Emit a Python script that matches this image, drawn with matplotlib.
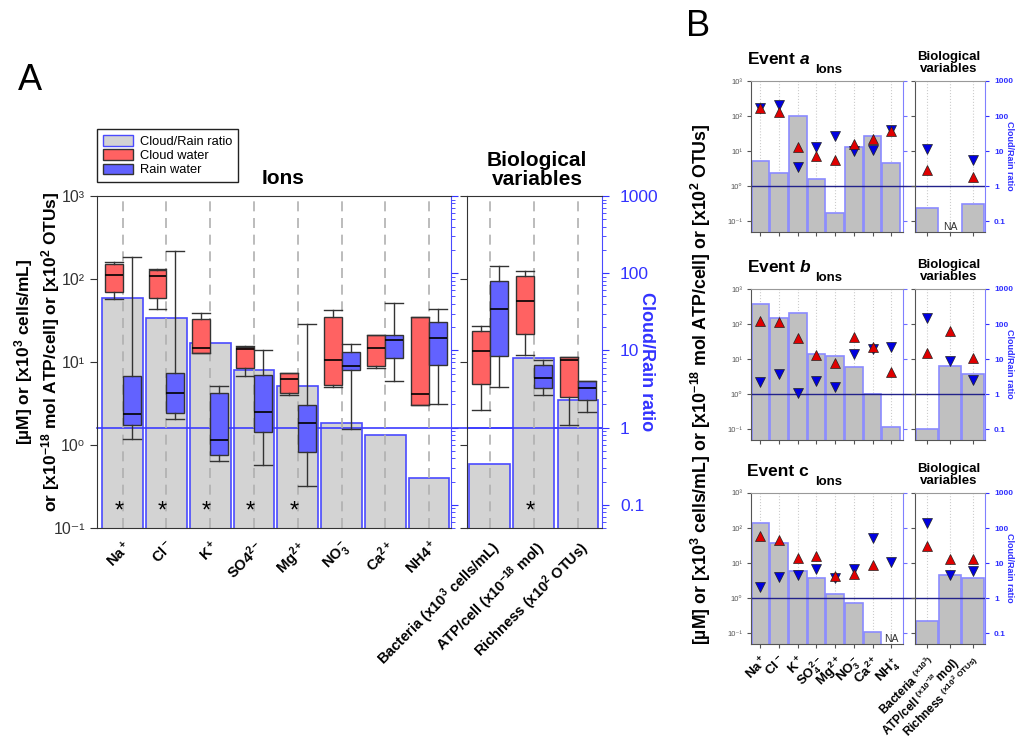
import numpy as np
import matplotlib
matplotlib.use('Agg')
from matplotlib import pyplot as plt
from matplotlib.patches import Patch
from matplotlib.ticker import FixedLocator, FuncFormatter, LogLocator, NullLocator, NullFormatter

plt.rcParams['font.family'] = ['Liberation Sans', 'DejaVu Sans']
plt.rcParams['mathtext.fontset'] = 'custom'
plt.rcParams['mathtext.rm'] = 'Liberation Sans:bold'
plt.rcParams['mathtext.bf'] = 'Liberation Sans:bold'
plt.rcParams['mathtext.sf'] = 'Liberation Sans:bold'
plt.rcParams['mathtext.it'] = 'Liberation Sans:italic:bold'
plt.rcParams['mathtext.default'] = 'rm'

#---------------------------data----------------------------------------------------
# panel A, categories
ion_labels_a = ['Na$^+$', 'Cl$^-$', 'K$^+$', 'SO4$^{2-}$', 'Mg$^{2+}$', 'NO$_3^-$', 'Ca$^{2+}$', 'NH4$^+$']
bio_labels_a = ['Bacteria (x10$^3$ cells/mL)', 'ATP/cell (x10$^{-18}$ mol)', 'Richness (x10$^2$ OTUs)']

# box stats: whisker low, q1, median, q3, whisker high
ion_cloud_stats = [[58, 69, 113, 151, 159],
                   [43, 59, 110, 127, 131],
                   [12.7, 12.9, 14.6, 32.6, 38.8],
                   [6.85, 8.5, 14.5, 15.2, 15.4],
                   [4.0, 4.2, 6.3, 7.4, 7.45],
                   [5.0, 5.3, 10.7, 35, 41.8],
                   [8.5, 8.9, 14.7, 21, 21.2],
                   [3.0, 3.0, 4.1, 35, 35]]
ion_rain_stats = [[1.17, 1.72, 2.35, 6.8, 185],
                  [2.07, 2.4, 4.2, 7.3, 216],
                  [0.65, 0.76, 1.16, 4.2, 5.2],
                  [0.58, 1.43, 2.48, 7.0, 13.8],
                  [0.32, 0.82, 1.82, 3.07, 29],
                  [1.55, 7.9, 9.0, 13.2, 16.3],
                  [5.9, 11.1, 18.6, 21, 52],
                  [3.15, 9.3, 19.3, 30.3, 43]]
ion_ratio = [47, 26.2, 12.4, 5.57, 3.46, 1.15, 0.80, 0.213]
ion_star = [True, True, True, True, True, False, False, False]

bio_cloud_stats = [[2.65, 5.4, 13.6, 23.8, 27.5],
                   [12.2, 21.5, 54, 108, 125],
                   [1.72, 3.8, 10.7, 11.6, 11.6]]
bio_rain_stats = [[5.0, 11.7, 43, 95, 145],
                  [4.0, 4.8, 6.5, 9.1, 10.5],
                  [2.47, 3.47, 4.8, 5.9, 5.9]]
bio_ratio = [0.33, 8.05, 2.25]
bio_star = [False, True, False]

# panel B, categories
ion_labels_b = ['Na$^+$', 'Cl$^-$', 'K$^+$', 'SO$_4^{2-}$', 'Mg$^{2+}$', 'NO$_3^-$', 'Ca$^{2+}$', 'NH$_4^+$']
bio_labels_b = ['Bacteria $^{(x10^3)}$', 'ATP/cell $^{(x10^{-18}}$mol)', 'Richness $^{(x10^2\\ OTUs)}$']

nan = np.nan
# event a
a_ratio_ions = [5.2, 2.45, 100, 1.6, 0.16, 12.8, 27, 4.6]
a_cloud_ions = [168, 135, 13.4, 7.4, 5.5, 16.3, 22, 37]
a_rain_ions = [175, 208, 3.55, 13.1, 27.5, 10.3, 11, 40.6]
a_ratio_bio = [0.23, nan, 0.31]
a_cloud_bio = [2.9, nan, 1.85]
a_rain_bio = [11.5, nan, 5.5]
# event b
b_ratio_ions = [384, 154, 204, 14.4, 12.3, 5.8, 1.03, 0.11]
b_cloud_ions = [124, 114, 40, 13.5, 8.0, 43.5, 22, 4.3]
b_rain_ions = [2.26, 3.8, 1.1, 2.4, 1.58, 14, 19, 22]
b_ratio_bio = [0.096, 6.3, 3.8]
b_cloud_bio = [15.3, 63, 10.8]
b_rain_bio = [147, 9.1, 2.5]
# event c
c_ratio_ions = [139, 37, 6.0, 3.9, 1.36, 0.72, 0.1, nan]
c_cloud_ions = [60, 46, 14.5, 16, 4.2, 5.0, 8.8, nan]
c_rain_ions = [2.15, 4.0, 4.6, 6.9, 3.7, 7.0, 51, 10.9]
c_ratio_bio = [0.21, 4.7, 3.7]
c_cloud_bio = [30, 12.9, 12.9]
c_rain_bio = [138, 4.7, 5.9]

#---------------------------helpers-------------------------------------------------
W, H = 1020, 740
RED = '#ff6262'
BLUE = '#6262ff'
SUP = str.maketrans('0123456789-', '⁰¹²³⁴⁵⁶⁷⁸⁹⁻')

# pixel box -> figure rect
def px_rect(left, top, right, bottom):
  return [left / W, 1 - bottom / H, (right - left) / W, (bottom - top) / H]

def pow_label(v, pos):
  e = int(round(np.log10(v)))
  return '10' + str(e).translate(SUP)

def ratio_label(v, pos):
  return '%g' % v

def to_stats(rows):
  return [dict(whislo=r[0], q1=r[1], med=r[2], q3=r[3], whishi=r[4], fliers=[]) for r in rows]

# one box plot axes of panel A (left: concentrations, right: ratio)
def draw_panel_a(rect, labels, cloud, rain, ratio, stars, xlim, is_bio):
  ax = fig.add_axes(rect)
  axr = ax.twinx()
  ax.set_zorder(axr.get_zorder() + 1)
  ax.patch.set_visible(False)
  x = np.arange(len(labels))

  ax.set_yscale('log')
  ax.set_ylim(0.1, 1000)
  axr.set_yscale('log')
  axr.set_ylim(0.05, 1000)
  ax.set_xlim(xlim)

  axr.bar(x, ratio, width=0.93, bottom=0.01, color='#d3d3d3', edgecolor='#4a4aff', linewidth=1.2)
  for xi in x:
    ax.axvline(xi, color='#b0b0b0', ls=(0, (6, 4)), lw=1.2, zorder=1)

  for stats, off, col in [(cloud, -0.205, RED), (rain, 0.205, BLUE)]:
    ax.bxp(to_stats(stats), positions=x + off, widths=0.41, capwidths=0.41, patch_artist=True,
           showfliers=False, manage_ticks=False, zorder=3,
           boxprops=dict(facecolor=col, edgecolor='#333333', linewidth=1),
           medianprops=dict(color='black', linewidth=1.2),
           whiskerprops=dict(color='#333333', linewidth=1),
           capprops=dict(color='#333333', linewidth=1))

  for xi, s in zip(x, stars):
    if s:
      ax.text(xi - 0.09, 0.16, '*', ha='center', va='center', fontsize=17, zorder=4)

  ax.yaxis.set_major_locator(FixedLocator([0.1, 1, 10, 100, 1000]))
  ax.yaxis.set_minor_locator(NullLocator())
  axr.yaxis.set_major_locator(FixedLocator([0.1, 1, 10, 100, 1000]))
  axr.yaxis.set_minor_locator(LogLocator(base=10, subs=np.arange(2, 10), numticks=20))
  axr.yaxis.set_minor_formatter(NullFormatter())
  if is_bio:
    ax.yaxis.set_major_formatter(NullFormatter())
    axr.yaxis.set_major_formatter(FuncFormatter(ratio_label))
    axr.tick_params(axis='y', which='major', colors='#3333ff', labelsize=12.5, length=5, pad=8)
  else:
    ax.yaxis.set_major_formatter(FuncFormatter(pow_label))
    axr.yaxis.set_major_formatter(NullFormatter())
    axr.tick_params(axis='y', which='major', colors='#3333ff', length=5)
  ax.tick_params(axis='y', which='major', colors='#333333', labelsize=11.5, length=5)
  axr.tick_params(axis='y', which='minor', colors='#3333ff', length=3)

  ax.set_xticks(x)
  ax.set_xticklabels(labels, rotation=45, ha='right', rotation_mode='anchor', fontsize=10.5, fontweight='bold')
  ax.tick_params(axis='x', length=0, pad=7)

  ax.spines['right'].set_visible(False)
  for side in ['left', 'top', 'bottom']:
    axr.spines[side].set_visible(False)
    ax.spines[side].set_color('#333333')
  axr.spines['right'].set_color('#4a4aff')
  return ax, axr

# one axes of panel B (markers + ratio bars, same scale)
def draw_panel_b(rect, ratio, cloud, rain, xlim, is_bio, labels):
  ax = fig.add_axes(rect)
  axr = ax.twinx()
  ax.set_zorder(axr.get_zorder() + 1)
  ax.patch.set_visible(False)
  x = np.arange(len(ratio))
  for a in [ax, axr]:
    a.set_yscale('log')
    a.set_ylim(0.05, 1000)
    a.yaxis.set_major_locator(FixedLocator([0.1, 1, 10, 100, 1000]))
    a.yaxis.set_minor_locator(NullLocator())
  ax.set_xlim(xlim)

  for xi in x:
    ax.axvline(xi, color='#cccccc', ls=':', lw=0.8, zorder=0)
  ax.bar(x, ratio, width=0.94, bottom=0.01, color='#c0c0c0', edgecolor='#8a8aff', linewidth=1.2, zorder=1)
  ax.axhline(1, color='#22228a', lw=1, zorder=2)
  ax.plot(x, rain, ls='none', marker='v', ms=7.5, mfc='#0000e0', mec='#222222', mew=0.5, zorder=4)
  ax.plot(x, cloud, ls='none', marker='^', ms=7.5, mfc='#e00000', mec='#222222', mew=0.5, zorder=4)
  for xi, r in zip(x, ratio):
    if np.isnan(r):
      ax.text(xi, 0.068, 'NA', ha='center', va='center', fontsize=7.5, color='#333333')

  if is_bio:
    ax.yaxis.set_major_formatter(NullFormatter())
    axr.yaxis.set_major_formatter(FuncFormatter(ratio_label))
    for t in axr.get_yticklabels():
      t.set_fontweight('bold')
    axr.tick_params(axis='y', colors='#3030ff', labelsize=6, length=3)
  else:
    ax.yaxis.set_major_formatter(FuncFormatter(pow_label))
    axr.yaxis.set_major_formatter(NullFormatter())
    axr.tick_params(axis='y', colors='#7070ff', length=3)
  ax.tick_params(axis='y', colors='#555555', labelsize=5.5, length=3)

  ax.set_xticks(x)
  if labels is not None:
    ax.set_xticklabels(labels, rotation=45, ha='right', rotation_mode='anchor',
                       fontsize=8.5 if is_bio else 9.5, fontweight='bold')
  else:
    ax.set_xticklabels([])
  ax.tick_params(axis='x', length=3, color='#555555', pad=4)

  ax.spines['right'].set_visible(False)
  for side in ['left', 'top', 'bottom']:
    axr.spines[side].set_visible(False)
  ax.spines['left'].set_color('#555555')
  ax.spines['bottom'].set_color('#555555')
  ax.spines['top'].set_color('#999999')
  axr.spines['right'].set_color('#8080ff')
  return ax

def draw_event(top, ions, bios, title, with_labels):
  bottom = top + 151
  ax_i = draw_panel_b(px_rect(751, top, 903, bottom), *ions, (-0.5, 7.63), False,
                      ion_labels_b if with_labels else None)
  draw_panel_b(px_rect(915, top, 985, bottom), *bios, (-0.52, 2.52), True,
               bio_labels_b if with_labels else None)
  # ratio = 1 line over the gap
  ax_i.axhline(1, xmin=1, xmax=(915 - 751) / 152, color='#22228a', lw=1, clip_on=False)
  fig.text(747 / W, 1 - (top - 22) / H, title, fontsize=12.5, fontweight='bold', va='center', ha='left')
  fig.text(829 / W, 1 - (top - 11) / H, 'Ions', fontsize=9.5, fontweight='bold', va='center', ha='center')
  fig.text(949 / W, 1 - (top - 18) / H, 'Biological\nvariables', fontsize=9.5, fontweight='bold',
           va='center', ha='center', linespacing=1.05)
  fig.text(1010 / W, 1 - (top + 75) / H, 'Cloud/Rain ratio', fontsize=6.5, fontweight='bold',
           color='#3030ff', rotation=270, va='center', ha='center')

#---------------------------main----------------------------------------------------
fig = plt.figure(figsize=(10.2, 7.4), dpi=100)

# panel A
ax_ion, axr_ion = draw_panel_a(px_rect(97, 196, 451, 528), ion_labels_a, ion_cloud_stats, ion_rain_stats,
                               ion_ratio, ion_star, (-0.587, 7.5), False)
ax_bio, axr_bio = draw_panel_a(px_rect(467, 196, 602, 528), bio_labels_a, bio_cloud_stats, bio_rain_stats,
                               bio_ratio, bio_star, (-0.52, 2.545), True)
axr_ion.axhline(1, xmin=0, xmax=(602 - 97) / 354, color='#3c3cff', lw=1.2, clip_on=False)
axr_bio.axhline(1, color='#3c3cff', lw=1.2)

fig.text(30 / W, 1 - 81 / H, 'A', fontsize=26, ha='center', va='center')
fig.text(283 / W, 1 - 178 / H, 'Ions', fontsize=15, fontweight='bold', ha='center', va='center')
fig.text(537 / W, 1 - 170 / H, 'Biological\nvariables', fontsize=15, fontweight='bold', ha='center',
         va='center', linespacing=1.0)
fig.text(647 / W, 1 - 362 / H, 'Cloud/Rain ratio', fontsize=13, fontweight='bold', color='#3333ff',
         rotation=270, ha='center', va='center')
fig.text(37 / W, 1 - 352 / H, '[µM] or [x10$^3$ cells/mL]\nor [x10$^{-18}$ mol ATP/cell] or [x10$^2$ OTUs]',
         fontsize=12.5, fontweight='bold', rotation=90, ha='center', va='center', multialignment='center')

handles = [Patch(facecolor='#d3d3d3', edgecolor='#4a4aff', label='Cloud/Rain ratio'),
           Patch(facecolor=RED, edgecolor='#333333', label='Cloud water'),
           Patch(facecolor=BLUE, edgecolor='#333333', label='Rain water')]
fig.legend(handles=handles, loc='upper left', bbox_to_anchor=(97 / W, 1 - 129 / H), fancybox=False,
           edgecolor='#222222', framealpha=1, fontsize=9.3, handlelength=2.3, handleheight=0.9,
           handletextpad=0.6, labelspacing=0.12, borderpad=0.45, borderaxespad=0)

# panel B
fig.text(698 / W, 1 - 27 / H, 'B', fontsize=26, ha='center', va='center')
draw_event(81, (a_ratio_ions, a_cloud_ions, a_rain_ions), (a_ratio_bio, a_cloud_bio, a_rain_bio),
           'Event $\\mathit{a}$', False)
draw_event(289, (b_ratio_ions, b_cloud_ions, b_rain_ions), (b_ratio_bio, b_cloud_bio, b_rain_bio),
           'Event $\\mathit{b}$', False)
draw_event(493, (c_ratio_ions, c_cloud_ions, c_rain_ions), (c_ratio_bio, c_cloud_bio, c_rain_bio),
           'Event c', True)
fig.text(701 / W, 1 - 384 / H, '[µM] or [x10$^3$ cells/mL] or [x10$^{-18}$ mol ATP/cell] or [x10$^2$ OTUs]',
         fontsize=12.8, fontweight='bold', rotation=90, ha='center', va='center')

plt.savefig('out.png', dpi=100)
